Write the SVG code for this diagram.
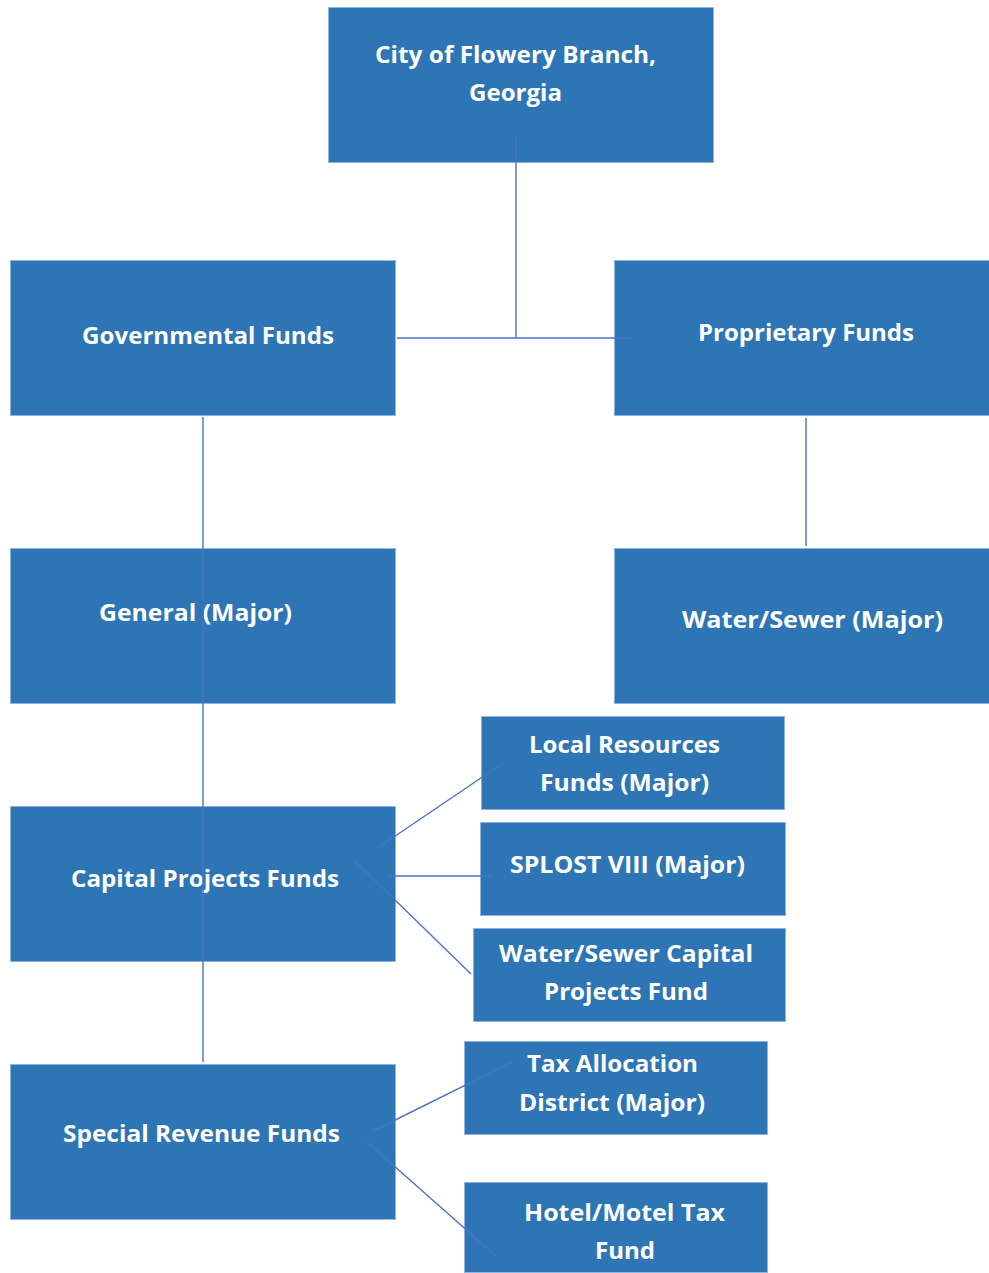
<svg xmlns="http://www.w3.org/2000/svg" width="989" height="1273" viewBox="0 0 989 1273">
<style>
.box{fill:#2E75B6;stroke:#8EB4E3;stroke-width:1}
.t{font-family:"Open Sans",Lato,"Liberation Sans",sans-serif;font-weight:700;font-size:23px;fill:#FFFFFF}
.c{stroke:#4A72C8;stroke-width:1.4;fill:none}
</style>
<rect width="989" height="1273" fill="#FFFFFF"/>
<g id="city"><rect class="box" x="328.5" y="7.5" width="385" height="155"/>
<text class="t" x="375" y="63" textLength="281" lengthAdjust="spacingAndGlyphs">City of Flowery Branch,</text>
<text class="t" x="469" y="101" textLength="93" lengthAdjust="spacingAndGlyphs">Georgia</text></g>
<g id="governmental"><rect class="box" x="10.5" y="260.5" width="385" height="155"/>
<text class="t" x="82" y="344" textLength="252" lengthAdjust="spacingAndGlyphs">Governmental Funds</text></g>
<g id="proprietary"><rect class="box" x="614.5" y="260.5" width="380" height="155"/>
<text class="t" x="698" y="341" textLength="216" lengthAdjust="spacingAndGlyphs">Proprietary Funds</text></g>
<g id="general"><rect class="box" x="10.5" y="548.5" width="385" height="155"/>
<text class="t" x="99" y="621" textLength="193" lengthAdjust="spacingAndGlyphs">General (Major)</text></g>
<g id="watersewer"><rect class="box" x="614.5" y="548.5" width="380" height="155"/>
<text class="t" x="682" y="628" textLength="261" lengthAdjust="spacingAndGlyphs">Water/Sewer (Major)</text></g>
<g id="capital"><rect class="box" x="10.5" y="806.5" width="385" height="155"/>
<text class="t" x="71" y="887" textLength="268" lengthAdjust="spacingAndGlyphs">Capital Projects Funds</text></g>
<g id="local"><rect class="box" x="481.5" y="716.5" width="303" height="93"/>
<text class="t" x="529" y="753" textLength="191" lengthAdjust="spacingAndGlyphs">Local Resources</text>
<text class="t" x="540" y="791" textLength="169" lengthAdjust="spacingAndGlyphs">Funds (Major)</text></g>
<g id="splost"><rect class="box" x="480.5" y="822.5" width="305" height="93"/>
<text class="t" x="510" y="873" textLength="235" lengthAdjust="spacingAndGlyphs">SPLOST VIII (Major)</text></g>
<g id="wscapital"><rect class="box" x="473.5" y="928.5" width="312" height="93"/>
<text class="t" x="499" y="962" textLength="254" lengthAdjust="spacingAndGlyphs">Water/Sewer Capital</text>
<text class="t" x="544" y="1000" textLength="164" lengthAdjust="spacingAndGlyphs">Projects Fund</text></g>
<g id="special"><rect class="box" x="10.5" y="1064.5" width="385" height="155"/>
<text class="t" x="63" y="1142" textLength="277" lengthAdjust="spacingAndGlyphs">Special Revenue Funds</text></g>
<g id="tax"><rect class="box" x="464.5" y="1041.5" width="303" height="93"/>
<text class="t" x="527" y="1072" textLength="171" lengthAdjust="spacingAndGlyphs">Tax Allocation</text>
<text class="t" x="519" y="1111" textLength="186" lengthAdjust="spacingAndGlyphs">District (Major)</text></g>
<g id="hotel"><rect class="box" x="464.5" y="1182.5" width="303" height="90"/>
<text class="t" x="524" y="1221" textLength="201" lengthAdjust="spacingAndGlyphs">Hotel/Motel Tax</text>
<text class="t" x="595" y="1259" textLength="60" lengthAdjust="spacingAndGlyphs">Fund</text></g>
<g id="connectors">
<line class="c" x1="516" y1="136" x2="516" y2="338"/>
<line class="c" x1="397" y1="338" x2="631" y2="338"/>
<line class="c" x1="203" y1="417" x2="203" y2="1062"/>
<line class="c" x1="806" y1="418" x2="806" y2="546"/>
<line class="c" x1="379" y1="847" x2="503" y2="763"/>
<line class="c" x1="388" y1="876" x2="491" y2="876"/>
<line class="c" x1="355" y1="861" x2="471" y2="974"/>
<line class="c" x1="373" y1="1131" x2="512" y2="1062"/>
<line class="c" x1="367" y1="1142" x2="497" y2="1257"/>
</g>
</svg>
